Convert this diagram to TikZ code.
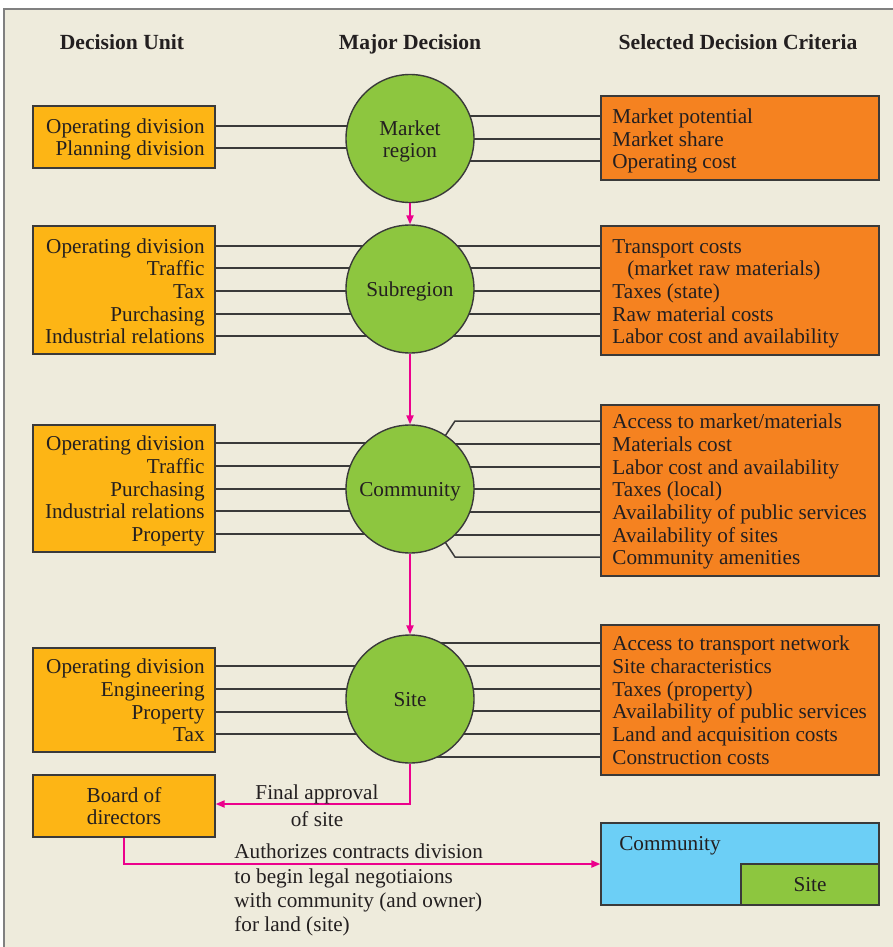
\documentclass[tikz,border=0pt]{standalone}
\usepackage{fontspec}
\setmainfont{Liberation Serif}
\usetikzlibrary{arrows.meta}
\definecolor{bgc}{HTML}{EEEBDC}
\definecolor{yel}{HTML}{FDB515}
\definecolor{org}{HTML}{F58220}
\definecolor{grn}{HTML}{8DC63F}
\definecolor{blu}{HTML}{6CCFF6}
\definecolor{pnk}{HTML}{EC008C}
\definecolor{edge}{HTML}{3A3A3A}
\definecolor{txt}{HTML}{231F20}
\pgfdeclarelayer{back}
\pgfdeclarelayer{lines}
\pgfsetlayers{back,lines,main}
\begin{document}
\begin{tikzpicture}[x=0.5pt,y=-0.5pt,
  font=\fontsize{10.6}{12}\selectfont, text=txt,
  lbox/.style={draw=edge, fill=yel, line width=0.7pt, minimum width=91pt, inner sep=0pt},
  rbox/.style={draw=edge, fill=org, line width=0.7pt, minimum width=139pt, inner sep=0pt},
  circ/.style={circle, draw=edge, fill=grn, line width=0.7pt, minimum size=64pt, inner sep=0pt},
  lt/.style={anchor=mid east, inner sep=0pt, yshift=-1.5pt},
  rt/.style={anchor=mid west, inner sep=0pt, yshift=-1.5pt},
  ct/.style={anchor=mid, inner sep=0pt, yshift=-1.5pt},
  conn/.style={draw=edge, line width=0.75pt},
  parr/.style={draw=pnk, line width=0.8pt, -{Triangle[length=4.5pt,width=3.6pt]}},
  hd/.style={font=\bfseries\fontsize{10.8}{12}\selectfont, inner sep=0pt, anchor=base}]
\useasboundingbox (0,0) rectangle (893,947);
\begin{pgfonlayer}{back}
\fill[bgc] (4,9) rectangle (893,947);
\draw[gray, line width=0.6pt] (4,947) -- (4,9) -- (893,9);
\end{pgfonlayer}

% headings
\node[hd] (h1) at (122,50) {Decision Unit};
\node[hd] (h2) at (410,50) {Major Decision};
\node[hd] (h3) at (738,50) {Selected Decision Criteria};

% left boxes
\node[lbox, minimum height=31pt] (L1) at (124,137) {};
\node[lbox, minimum height=64pt] (L2) at (124,290) {};
\node[lbox, minimum height=63.5pt] (L3) at (124,488.5) {};
\node[lbox, minimum height=52pt] (L4) at (124,700) {};
\node[lbox, minimum height=31pt] (L5) at (124,806) {};

% right boxes
\node[rbox, minimum height=42pt] (R1) at (740,138) {};
\node[rbox, minimum height=64.5pt] (R2) at (740,290.5) {};
\node[rbox, minimum height=85.5pt] (R3) at (740,490.5) {};
\node[rbox, minimum height=75pt] (R4) at (740,700) {};

% circles
\node[circ] (C1) at (410,138.5) {};
\node[circ] (C2) at (410,289) {};
\node[circ] (C3) at (410,489) {};
\node[circ] (C4) at (410,699) {};
\node[ct] (c1a) at (410,128) {Market};
\node[ct] (c1b) at (410,150) {region};
\node[ct] (c2t) at (410,289) {Subregion};
\node[ct] (c3t) at (410,489) {Community};
\node[ct] (c4t) at (410,699) {Site};

% left texts
\foreach \t/\y [count=\i] in {Operating division/126, Planning division/148}
  \node[lt] (la\i) at (205,\y) {\t};
\foreach \t/\y [count=\i] in {Operating division/246, Traffic/268, Tax/291, Purchasing/314, Industrial relations/336}
  \node[lt] (lb\i) at (205,\y) {\t};
\foreach \t/\y [count=\i] in {Operating division/443, Traffic/466, Purchasing/489, Industrial relations/511, Property/534}
  \node[lt] (lc\i) at (205,\y) {\t};
\foreach \t/\y [count=\i] in {Operating division/666, Engineering/689, Property/712, Tax/734}
  \node[lt] (ld\i) at (205,\y) {\t};
\node[ct] (bd1) at (124,795) {Board of};
\node[ct] (bd2) at (124,817) {directors};

% right texts
\foreach \t/\y [count=\i] in {Market potential/116, Market share/139, Operating cost/161}
  \node[rt] (ra\i) at (612,\y) {\t};
\foreach \t/\y [count=\i] in {Transport costs/246, Taxes (state)/291, Raw material costs/314, Labor cost and availability/336}
  \node[rt] (rb\i) at (612,\y) {\t};
\node[rt] (rbx) at (627,268) {(market raw materials)};
\foreach \t/\y [count=\i] in {{Access to market/materials}/421, Materials cost/444, Labor cost and availability/467, Taxes (local)/489, Availability of public services/512, Availability of sites/535, Community amenities/557}
  \node[rt] (rc\i) at (612,\y) {\t};
\foreach \t/\y [count=\i] in {Access to transport network/643, Site characteristics/666, Taxes (property)/689, Availability of public services/711, Land and acquisition costs/734, Construction costs/757}
  \node[rt] (rd\i) at (612,\y) {\t};

% connectors (behind circles)
\begin{pgfonlayer}{lines}
\tikzset{up/.style={yshift=1.5pt}}
\foreach \i in {1,2} \draw[conn] ([up]L1.east |- la\i.mid) -- ([up]C1.center |- la\i.mid);
\foreach \i in {1,...,5} \draw[conn] ([up]L2.east |- lb\i.mid) -- ([up]C2.center |- lb\i.mid);
\foreach \i in {1,...,5} \draw[conn] ([up]L3.east |- lc\i.mid) -- ([up]C3.center |- lc\i.mid);
\foreach \i in {1,...,4} \draw[conn] ([up]L4.east |- ld\i.mid) -- ([up]C4.center |- ld\i.mid);
\foreach \i in {1,2,3} \draw[conn] ([up]R1.west |- ra\i.mid) -- ([up]C1.center |- ra\i.mid);
\foreach \i in {1,2,3,4} \draw[conn] ([up]R2.west |- rb\i.mid) -- ([up]C2.center |- rb\i.mid);
\draw[conn] ([up]R2.west |- rbx.mid) -- ([up]C2.center |- rbx.mid);
\foreach \i in {2,...,6} \draw[conn] ([up]R3.west |- rc\i.mid) -- ([up]C3.center |- rc\i.mid);
\draw[conn] ([up]R3.west |- rc1.mid) -- ([xshift=22.5pt,up]C3.center |- rc1.mid) -- (C3.center);
\draw[conn] ([up]R3.west |- rc7.mid) -- ([xshift=22.5pt,up]C3.center |- rc7.mid) -- (C3.center);
\foreach \i in {1,...,6} \draw[conn] ([up]R4.west |- rd\i.mid) -- ([up]C4.center |- rd\i.mid);
\end{pgfonlayer}

% pink arrows
\draw[parr] (C1.south) -- (C2.north);
\draw[parr] (C2.south) -- (C3.north);
\draw[parr] (C3.south) -- (C4.north);
\coordinate (fa) at (410,804);
\draw[parr] (C4.south) -- (fa) -- (L5.east |- fa);
\node[ct] (fa1) at (317,792) {Final approval};
\node[ct] (fa2) at (317,819) {of site};

% community box
\node[draw=edge, fill=blu, line width=0.7pt, minimum width=139pt, minimum height=41pt, inner sep=0pt] (CB) at (740,864) {};
\node[draw=edge, fill=grn, line width=0.7pt, minimum width=69pt, minimum height=20.5pt, inner sep=0pt, anchor=south east] (SB) at (CB.south east) {};
\node[ct] (cbt) at (670,843) {Community};
\node[ct] (sbt) at (810,884) {Site};
\draw[parr] (L5.south) |- (CB.west);
\foreach \t/\y [count=\i] in {Authorizes contracts division/851, to begin legal negotiaions/876, with community (and owner)/900, for land (site)/924}
  \node[anchor=mid west, inner sep=0pt, yshift=-1.5pt] (au\i) at (234,\y) {\t};
\end{tikzpicture}
\end{document}
